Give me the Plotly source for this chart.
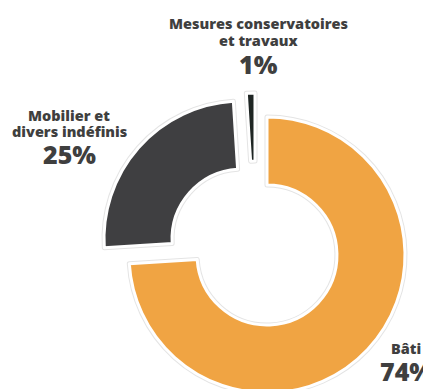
import plotly.graph_objects as go

# ---- data ----
categories = ["Bâti", "Mobilier et<br>divers indéfinis", "Mesures conservatoires<br>et travaux"]
shares = [74, 25, 1]
slice_colors = ["#F0A443", "#3F3F41", "#1E2523"]

# ---- layout constants (pixels, window coordinates) ----
W, H = 431, 394
OFF = 8  # page body margin
R_OUT = 138
HOLE = 0.507
# centre of each slice's ring (pulled slices are displaced)
centers = [(267, 255), (242, 239), (255, 231)]
TXT = "#3F3F3F"
FONT = "Open Sans"
LBL_SIZE = 14.5
PCT_SIZE = 25


def px_x(x):
    return (x - OFF) / W


def px_y(y):
    return 1 - (y - OFF) / H


def domain_for(cx, cy, r):
    return dict(x=[px_x(cx - r), px_x(cx + r)],
                y=[px_y(cy + r), px_y(cy - r)])


fig = go.Figure()
n = len(shares)
for i, (cx, cy) in enumerate(centers):
    for lw, lc in ((5, "#E4E4E4"), (3, "#FFFFFF")):
        cols = [slice_colors[j] if j == i else "rgba(0,0,0,0)" for j in range(n)]
        lcols = [lc if j == i else "rgba(0,0,0,0)" for j in range(n)]
        lws = [lw if j == i else 0 for j in range(n)]
        fig.add_trace(go.Pie(
            values=shares, labels=categories, sort=False, direction="clockwise",
            rotation=0, hole=HOLE, textinfo="none", hoverinfo="skip",
            showlegend=False,
            marker=dict(colors=cols, line=dict(color=lcols, width=lws)),
            domain=domain_for(cx, cy, R_OUT),
        ))

# label positions: (centre x, [baseline of each label line], baseline of percentage)
label_pos = [(406, [353.3], 380), (69.5, [120.7, 136.7], 163.3), (259, [29, 45.5], 73)]
for (x, lines_y, py), cat, v in zip(label_pos, categories, shares):
    for line, by in zip(cat.split("<br>"), lines_y):
        fig.add_annotation(x=px_x(x), y=px_y(by - 0.36 * LBL_SIZE), xref="paper", yref="paper",
                           text=line, showarrow=False, xanchor="center", yanchor="middle",
                           font=dict(family=FONT, size=LBL_SIZE, color=TXT, weight=800))
    fig.add_annotation(x=px_x(x), y=px_y(py - 0.36 * PCT_SIZE), xref="paper", yref="paper",
                       text=f"{v}%", showarrow=False, xanchor="center", yanchor="middle",
                       font=dict(family=FONT, size=PCT_SIZE, color=TXT, weight=800))

fig.update_layout(width=W, height=H, margin=dict(l=0, r=0, t=0, b=0),
                  paper_bgcolor="white", plot_bgcolor="white")
fig.write_html("out.html")
